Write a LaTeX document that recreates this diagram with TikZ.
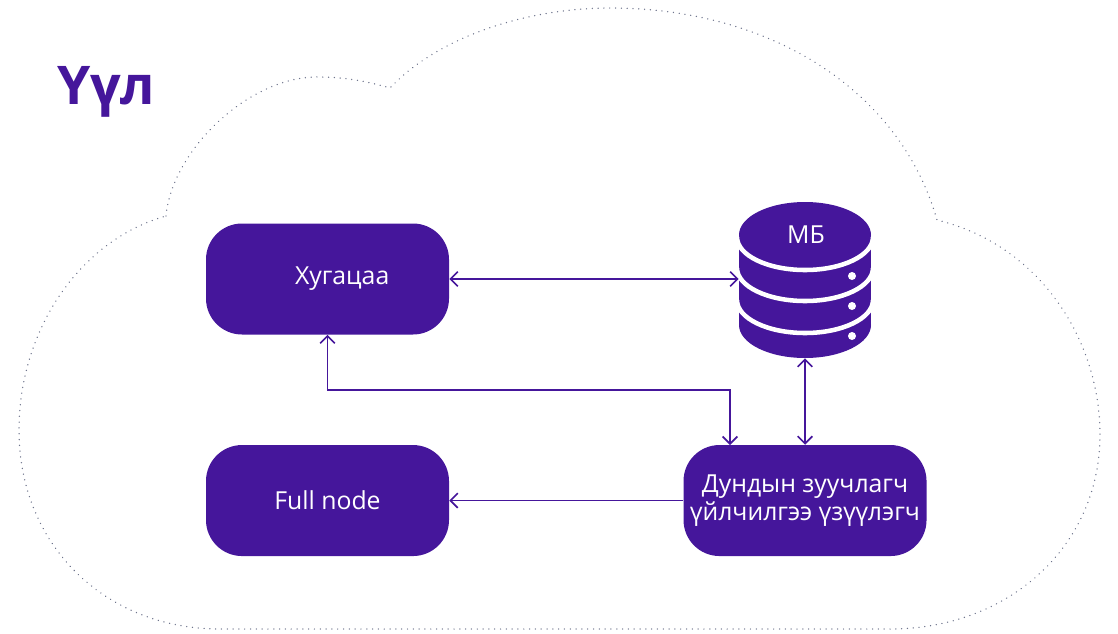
\documentclass[tikz,border=0pt]{standalone}
\usepackage{fontspec}
\setmainfont{Open Sans}
\usetikzlibrary{arrows.meta, positioning}
\definecolor{nodeviolet}{HTML}{45169B}
\definecolor{clouddots}{HTML}{6E748C}
\tikzset{
	box/.style={draw=none, fill=nodeviolet, text=white, rectangle, rounded corners=27pt, minimum width=182.25pt, minimum height=83.25pt, inner sep=0pt, align=center, font=\fontsize{18.6}{21.3}\selectfont},
	line/.style={draw=nodeviolet, line width=1.25pt, {Straight Barb[length=5.5pt, width=11pt]}-{Straight Barb[length=5.5pt, width=11pt]}},
	arrow/.style={draw=nodeviolet, line width=1.25pt, -{Straight Barb[length=5.5pt, width=11pt]}},
	cloud line/.style={draw=clouddots, line width=1.1pt, line cap=round, dash pattern=on 0.01pt off 4.35pt},
	gap/.style={draw=white, line width=3.4pt}
}
\begin{document}
\begin{tikzpicture}[x=0.75pt, y=-0.75pt]
	\useasboundingbox (0,0) rectangle (1118,633);
	
	% Cloud outline
	\draw[cloud line] (166,216) .. controls (172,150) and (250,75) .. (320,77)
		.. controls (345,77) and (370,82) .. (390,88)
		.. controls (440,35) and (530,8) .. (610,8)
		.. controls (770,8) and (900,90) .. (937,220)
		.. controls (1040,245) and (1100,340) .. (1100,435)
		.. controls (1100,545) and (1010,629) .. (890,629)
		-- (220,629)
		.. controls (105,629) and (19,545) .. (19,430)
		.. controls (19,330) and (80,240) .. (166,216);
	
	\node[anchor=base west, inner sep=0pt, text=nodeviolet, font=\fontsize{40}{44}\selectfont\bfseries] (title) at (57,104) {Үүл};
	
	% Blocks
	\node[box, text width=182.25pt] (time) at (327.5,279) {\hspace*{22pt}Хугацаа};
	\node[box, below=82.5pt of time] (full) {Full node};
	\node[box, right=175.5pt of full] (broker) {Дундын зуучлагч\\үйлчилгээ үзүүлэгч};
	
	% Database
	\node[minimum width=99pt, minimum height=118.5pt, inner sep=0pt] (db) at (805,279) {};
	\fill[nodeviolet] (739,235) rectangle (871,325);
	\fill[nodeviolet] (805,235) ellipse [x radius=66, y radius=33];
	\fill[nodeviolet] (805,325) ellipse [x radius=66, y radius=33];
	\foreach \y in {237,268,300} {
		\draw[gap] (737,\y) arc [start angle=180, end angle=360, x radius=68, y radius=-33];
	}
	\foreach \y in {276,306,336} {
		\fill[white] (852,\y) circle [radius=4];
	}
	\node[text=white, inner sep=0pt, font=\fontsize{18.6}{21.3}\selectfont] (dbname) at (806,235) {МБ};
	
	% Connections
	\coordinate (bend) at (730,390);
	\coordinate (brokerin) at (730,445);
	\draw[line] (time.east) -- (db.west);
	\draw[line] (db.south) -- (broker.north);
	\draw[line] (time.south) |- (bend) -- (brokerin);
	\draw[arrow] (broker.west) -- (full.east);
\end{tikzpicture}
\end{document}
